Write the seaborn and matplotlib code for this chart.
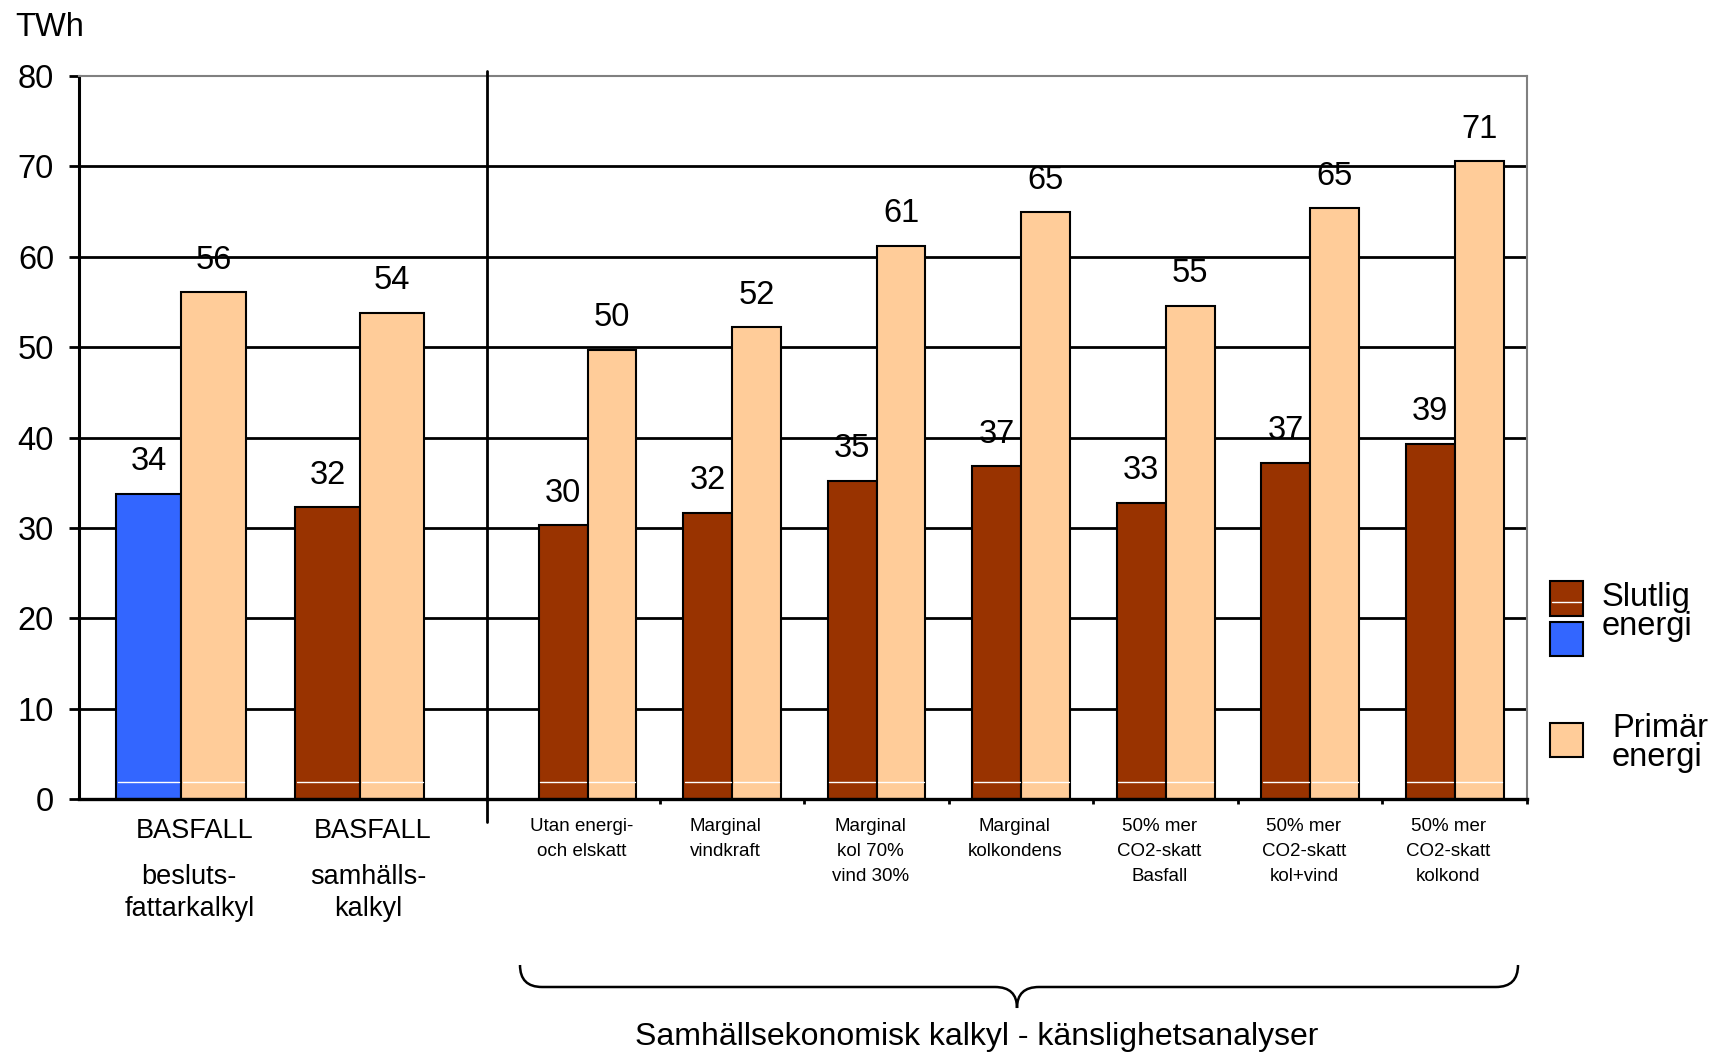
import numpy as np
import pandas as pd
import seaborn as sns
import matplotlib.pyplot as plt
from matplotlib.lines import Line2D
from matplotlib.patches import Rectangle, PathPatch
from matplotlib.path import Path
from matplotlib.transforms import ScaledTranslation

# --- data -------------------------------------------------------------
bas_cats = ["BASFALL A", "BASFALL B"]
bas_ticks = ["BASFALL", "BASFALL"]
bas_sub = ["besluts-\nfattarkalkyl", "samhälls-\nkalkyl"]
bas_slutlig = [33.8, 32.3]
bas_primar = [56.1, 53.8]

sens_cats = ["Utan energi-\noch elskatt", "Marginal\nvindkraft", "Marginal\nkol 70%\nvind 30%",
             "Marginal\nkolkondens", "50% mer\nCO2-skatt\nBasfall", "50% mer\nCO2-skatt\nkol+vind",
             "50% mer\nCO2-skatt\nkolkond"]
sens_slutlig = [30.3, 31.7, 35.2, 36.8, 32.8, 37.2, 39.3]
sens_primar = [49.7, 52.2, 61.2, 64.9, 54.6, 65.4, 70.6]

series = ["Slutlig energi", "Primär energi"]
brown, peach, blue = "#993300", "#FFCC99", "#3366FF"
palette = {series[0]: brown, series[1]: peach}

def long_df(cats, s, p):
    return pd.DataFrame({"Scenario": cats * 2,
                         "Typ": [series[0]] * len(cats) + [series[1]] * len(cats),
                         "TWh": s + p})

df_bas = long_df(bas_cats, bas_slutlig, bas_primar)
df_sens = long_df(sens_cats, sens_slutlig, sens_primar)

# --- style ------------------------------------------------------------
sns.set_style("white")
plt.rcParams["font.family"] = ["Liberation Sans", "DejaVu Sans"]
plt.rcParams["text.color"] = "black"
plt.rcParams["xtick.color"] = "black"
plt.rcParams["ytick.color"] = "black"
plt.rcParams["axes.labelcolor"] = "black"

W, H = 1709, 1053
fig = plt.figure(figsize=(W / 100, H / 100), dpi=100)
axL = fig.add_axes([79 / W, 1 - 799 / H, 408 / W, 723 / H])
axR = fig.add_axes([487 / W, 1 - 799 / H, 1040 / W, 723 / H], sharey=axL)

sns.barplot(data=df_bas, x="Scenario", y="TWh", hue="Typ", order=bas_cats, hue_order=series,
            palette=palette, saturation=1, width=0.724, edgecolor="black", linewidth=1.5,
            legend=False, ax=axL)
sns.barplot(data=df_sens, x="Scenario", y="TWh", hue="Typ", order=sens_cats, hue_order=series,
            palette=palette, saturation=1, width=0.676, edgecolor="black", linewidth=1.5,
            legend=False, ax=axR)

# first "slutlig" bar is blue (beslutsfattarkalkyl)
for p in axL.patches:
    if p.get_x() < 0 and abs(p.get_height() - bas_slutlig[0]) < 1e-9:
        p.set_facecolor(blue)

for ax in (axL, axR):
    ax.set_ylim(0, 80)
    ax.set_yticks(np.arange(0, 81, 10))
    ax.set_axisbelow(True)
    ax.yaxis.grid(True, color="black", linewidth=2.0)
    ax.get_ygridlines()[-1].set_visible(False)
    ax.set_xlabel("")
    ax.set_ylabel("")
    for sp in ("top", "right"):
        ax.spines[sp].set_color("#808080")
        ax.spines[sp].set_linewidth(1.5)
    ax.spines["bottom"].set_color("black")
    ax.spines["bottom"].set_linewidth(2.4)
    # value labels
    for p in ax.patches:
        h = p.get_height()
        ax.annotate(f"{h:.0f}", (p.get_x() + p.get_width() / 2, h), xytext=(0, 23),
                    textcoords="offset points", ha="center", va="center", fontsize=23.5)
        # thin white line near the base of each bar
        ax.plot([p.get_x() + 0.01, p.get_x() + p.get_width() - 0.01], [1.9, 1.9],
                color="white", linewidth=1, zorder=3)

axL.set_xlim(-0.571, 1.712)
axR.set_xlim(-0.6955, 6.5)

axL.spines["right"].set_visible(False)
axL.spines["left"].set_color("black")
axL.spines["left"].set_linewidth(2.2)
axR.spines["left"].set_visible(False)

axL.tick_params(axis="y", direction="out", length=7, width=2, labelsize=23.5, pad=11, left=True)
axL.tick_params(axis="x", length=0, labelsize=19.5, pad=14)
axL.set_xticks(range(len(bas_cats)))
axL.set_xticklabels(bas_ticks)
for lab in axL.get_xticklabels():
    lab.set_transform(lab.get_transform() + ScaledTranslation(9.5 / 72, 0, fig.dpi_scale_trans))
for i, sub in enumerate(bas_sub):
    axL.annotate(sub, (i, 0), xytext=(6, -47), textcoords="offset points", ha="center",
                 va="top", fontsize=19.5, linespacing=1.28, annotation_clip=False)

axR.tick_params(axis="y", left=False, labelleft=False)
axR.tick_params(axis="x", which="major", length=0, labelsize=13.5, pad=14)
axR.set_xticks(np.arange(len(sens_cats)) + 0.5, minor=True)
axR.tick_params(axis="x", which="minor", direction="out", length=3.6, width=2, color="black",
                bottom=True)
for lab in axR.get_xticklabels():
    lab.set_linespacing(1.6)
    lab.set_transform(lab.get_transform() + ScaledTranslation(-4.5 / 72, 0, fig.dpi_scale_trans))

# divider between the two parts
fig.add_artist(Line2D([487 / W, 487 / W], [1 - 822 / H, 1 - 71 / H], color="black", linewidth=2))

fig.text(15 / W, 1 - 27 / H, "TWh", fontsize=23.5, ha="left", va="center")

# brace under the sensitivity analyses
def fp(x, y):
    return (x / W, 1 - y / H)

xl, xr, xm = 520, 1518, 1017
yt, yh, yb, r = 965, 987, 1008, 22
verts = [fp(xl, yt), fp(xl, yh), fp(xl + r, yh), fp(xm - r, yh), fp(xm, yh), fp(xm, yb),
         fp(xm, yh), fp(xm + r, yh), fp(xr - r, yh), fp(xr, yh), fp(xr, yt)]
codes = [Path.MOVETO, Path.CURVE3, Path.CURVE3, Path.LINETO, Path.CURVE3, Path.CURVE3,
         Path.CURVE3, Path.CURVE3, Path.LINETO, Path.CURVE3, Path.CURVE3]
fig.add_artist(PathPatch(Path(verts, codes), facecolor="none", edgecolor="black", linewidth=1.8,
                         transform=fig.transFigure))
fig.text(977 / W, 1 - 1045 / H, "Samhällsekonomisk kalkyl - känslighetsanalyser", fontsize=23,
         ha="center", va="baseline")

# legend
for (y0, y1), col in zip([(581, 616), (622, 656), (723, 757)], [brown, blue, peach]):
    fig.add_artist(Rectangle((1550 / W, 1 - y1 / H), 33 / W, (y1 - y0) / H, facecolor=col,
                             edgecolor="black", linewidth=1.5, transform=fig.transFigure))
fig.add_artist(Line2D([1552 / W, 1581 / W], [1 - 602 / H] * 2, color="white", linewidth=1))
fig.text(1602 / W, 1 - 612 / H, "Slutlig\nenergi", fontsize=23.5, ha="left", va="center",
         linespacing=0.93)
fig.text(1612 / W, 1 - 743 / H, "Primär\nenergi", fontsize=23.5, ha="left", va="center",
         linespacing=0.93)

fig.savefig("out.png", dpi=100)
